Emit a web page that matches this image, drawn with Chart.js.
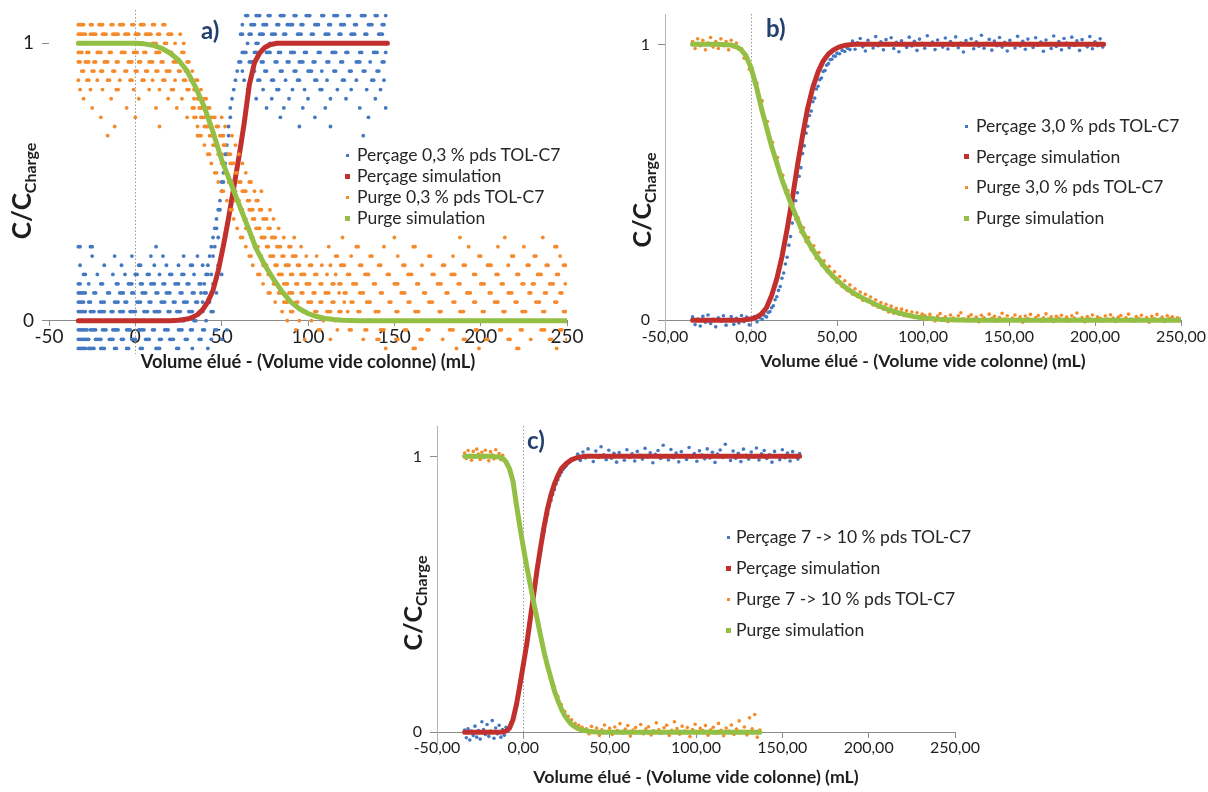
<!DOCTYPE html>
<html lang="fr">
<head>
<meta charset="utf-8">
<title>Perçage et purge TOL-C7</title>
<script src="https://cdn.jsdelivr.net/npm/chart.js@4.4.1/dist/chart.umd.min.js"></script>
<style>
  html, body { margin: 0; padding: 0; background: #fff; width: 1208px; height: 792px; overflow: hidden; }
  body { position: relative; font-family: Lato, "Open Sans", sans-serif; }
  canvas { position: absolute; }
  .panel { position: absolute; font-weight: bold; color: #24406e; font-size: 24px; line-height: 24px; }
  .leg { position: absolute; font-size: 17.5px; line-height: 20px; color: #262626; white-space: nowrap; }
  .mk { position: absolute; }
</style>
</head>
<body>
<canvas id="chartA"></canvas>
<canvas id="chartB"></canvas>
<canvas id="chartC"></canvas>
<div class="panel" style="left:201px; top:18px;">a)</div>
<div class="panel" style="left:766px; top:16px;">b)</div>
<div class="panel" style="left:527px; top:428px;">c)</div>
<div id="legends"></div>
<script>
// ---- axes ----
const xTickValues = [-50, 0, 50, 100, 150, 200, 250];
const xTickLabelsA = ['-50', '0', '50', '100', '150', '200', '250'];
const xTickLabelsBC = ['-50,00', '0,00', '50,00', '100,00', '150,00', '200,00', '250,00'];
const yTickValues = [0, 1];
const yTickLabels = ['0', '1'];
const xTitle = 'Volume élué - (Volume vide colonne) (mL)';

const namesA = ['Perçage 0,3 % pds TOL-C7', 'Perçage simulation', 'Purge 0,3 % pds TOL-C7', 'Purge simulation'];
const namesB = ['Perçage 3,0 % pds TOL-C7', 'Perçage simulation', 'Purge 3,0 % pds TOL-C7', 'Purge simulation'];
const namesC = ['Perçage 7 -> 10 % pds TOL-C7', 'Perçage simulation', 'Purge 7 -> 10 % pds TOL-C7', 'Purge simulation'];

// ---- a) 0,3 % : mesures par niveau [C/Ccharge, [volumes]] ----
const percageExpA = [
  [1.1, [64,65,70,71,72,77,78,84,85,86,92,93,99,100,101,108,109,115,116,117,123,124,131,132,133,139,140,145]],
  [1.067, [62,67,68,69,74,75,76,82,83,88,89,90,91,96,97,104,105,106,112,113,119,120,121,127,128,135,136,137,143,144]],
  [1.033, [61,62,66,67,72,73,74,79,80,81,86,87,94,95,96,102,103,110,111,112,118,119,125,126,127,133,134,141,142,143]],
  [1.0, [65,70,71,78,85,86,93,101,109,110,118,126,134,142]],
  [0.967, [62,63,64,69,70,76,77,78,83,84,90,91,92,98,99,106,107,114,115,116,122,123,130,131,138,139,140,145]],
  [0.933, [60,61,66,67,68,73,74,81,82,88,89,95,96,97,103,104,111,112,119,120,128,129,130,136,143,144]],
  [0.9, [59,62,68,69,75,76,84,85,92,93,100,101,102,108,115,116,124,125,132,133,140,141]],
  [0.867, [58,63,71,72,79,80,87,94,95,104,105,111,120,121,128,137,138,144]],
  [0.833, [57,65,74,82,83,91,98,107,108,117,125,134,142]],
  [0.8, [56,70,79,89,100,113,122,139]],
  [0.767, [55,76,86,97,110,130,145]],
  [0.733, [55,84,104,135]],
  [0.7, [54,95,113]],
  [0.667, [54,132]],
  [0.633, [53]],
  [0.6, [52,53]],
  [0.567, [52]],
  [0.533, [51]],
  [0.5, [50,51]],
  [0.467, [50]],
  [0.433, [49]],
  [0.4, [48,49]],
  [0.367, [47]],
  [0.333, [46,47]],
  [0.3, [45,48]],
  [0.267, [-33,-32,-26,-25,12,44,46]],
  [0.233, [-25,-12,-2,9,16,28,36,43,45]],
  [0.2, [-32,-18,-8,2,3,11,18,25,32,33,39,42,48]],
  [0.167, [-30,-29,-22,-13,-6,0,1,7,8,14,20,21,27,28,34,41,42,44,50]],
  [0.133, [-33,-32,-27,-20,-19,-11,-10,-4,-3,-2,3,4,9,10,11,16,17,23,24,25,30,31,37,38,40,45]],
  [0.1, [-33,-32,-31,-30,-29,-24,-23,-16,-15,-9,-8,-7,-2,-1,4,5,6,12,13,18,19,20,26,27,33,34,38,40,41,47]],
  [0.067, [-33,-32,-31,-30,-27,-26,-20,-19,-18,-12,-11,-10,-6,-5,1,2,3,8,9,15,16,17,22,23,28,29,30,35,36,39,42,43]],
  [0.033, [-33,-32,-31,-30,-29,-26,-25,-24,-21,-20,-19,-18,-14,-13,-9,-8,-7,-3,-2,-1,0,5,6,7,11,12,13,14,19,20,24,25,26,31,32,33,38,39,44,45]],
  [0, [-33,-32,-31,-30,-28,-27,-26,-23,-22,-17,-16,-15,-11,-10,-6,-5,-1,0,4,5,9,10,15,16,21,22,27,28,34,35,41]],
  [-0.033, [-33,-32,-31,-30,-29,-28,-26,-25,-24,-23,-19,-18,-17,-13,-12,-11,-10,-5,-4,-3,2,3,4,5,10,11,17,18,19,25,26,27,32,33,39,40,46,47,53]],
  [-0.067, [-33,-32,-31,-30,-29,-28,-27,-23,-22,-21,-20,-15,-14,-13,-8,-7,-2,-1,0,6,7,8,14,15,20,21,22,29,30,37,38,44,50]],
  [-0.1, [-33,-32,-31,-30,-29,-27,-26,-25,-24,-20,-19,-18,-12,-11,-5,-4,3,4,12,13,14,24,25,33,42]]
];
const purgeExpA = [
  [1.067, [-33,-32,-31,-30,-26,-25,-21,-20,-19,-14,-13,-9,-8,-7,-2,-1,3,4,5,10,11,16,17]],
  [1.033, [-33,-32,-31,-30,-29,-26,-25,-24,-23,-19,-18,-17,-13,-12,-11,-10,-6,-5,-4,0,1,2,6,7,8,9,13,14,19,20,21,26]],
  [1.0, [-33,-32,-31,-30,-29,-24,-23,-22,-17,-16,-10,-9,-8,-3,-2,3,4,10,11,12,17,18,23,28]],
  [0.967, [-33,-32,-31,-28,-27,-22,-21,-20,-15,-14,-8,-7,-6,-1,0,1,5,6,12,13,14,20,21,27,28]],
  [0.933, [-33,-32,-29,-28,-27,-24,-23,-18,-17,-16,-11,-10,-4,-3,-2,2,3,8,9,10,15,16,22,23,24,30,31]],
  [0.9, [-31,-30,-25,-24,-20,-19,-13,-12,-6,-5,0,1,6,7,12,13,18,19,20,25,26,29,33]],
  [0.867, [-33,-28,-27,-22,-16,-15,-9,-3,-2,4,5,10,16,17,23,28,29,32,35,36]],
  [0.833, [-32,-26,-19,-11,-10,-1,8,14,21,22,30,31,34,38]],
  [0.8, [-30,-14,2,19,27,34,36,37,40,41]],
  [0.767, [-25,-5,12,24,33,34,37,38,39,42,43]],
  [0.733, [-20,0,30,34,35,38,39,40,44,45,46,50]],
  [0.7, [-12,14,36,40,41,42,44,47,48,52]],
  [0.667, [-16,36,37,38,43,44,49,50,51,56]],
  [0.633, [40,45,46,47,51,52,58]],
  [0.6, [42,43,48,49,50,54,55,60]],
  [0.567, [44,50,51,55,56,57,62]],
  [0.533, [46,47,52,53,58,59,64]],
  [0.5, [48,54,55,56,60,61,66,67]],
  [0.467, [50,51,57,58,62,63,64,69,73]],
  [0.433, [53,58,59,60,65,66,70,71]],
  [0.4, [55,56,61,62,66,67,68,72,73,78]],
  [0.367, [57,63,64,68,69,74,75,76,80]],
  [0.333, [59,64,65,66,70,71,72,77,78,83]],
  [0.3, [61,62,67,68,73,74,75,79,80,81,86,92,120,150,188,214,236]],
  [0.267, [64,69,70,71,76,77,82,83,84,89,90,96,112,128,129,144,161,162,193,210,225,243,244]],
  [0.233, [66,67,72,73,78,79,80,85,86,91,92,93,99,105,116,117,125,136,137,152,170,171,184,199,200,218,219,231,232,246]],
  [0.2, [68,74,75,76,81,82,87,88,89,94,95,101,102,108,113,119,120,121,130,131,141,142,155,156,166,178,179,190,191,204,205,206,216,227,228,238,239,248,249]],
  [0.167, [71,72,77,78,83,84,85,90,91,96,97,98,104,105,111,116,123,124,133,134,135,146,147,158,159,160,172,173,183,184,185,196,197,209,210,221,222,233,234,235,244,245]],
  [0.133, [74,80,81,86,87,88,93,94,99,100,101,107,108,114,115,118,119,126,127,128,138,139,150,151,152,163,164,175,176,177,187,188,200,201,202,212,213,224,225,230,231,240,241,242,249]],
  [0.1, [77,78,83,84,89,90,91,96,97,103,104,110,111,112,118,121,122,130,131,132,142,143,154,155,156,167,168,180,181,192,193,194,205,206,216,217,218,228,229,237,238,246,247]],
  [0.067, [81,86,87,88,93,94,100,101,102,107,108,114,115,121,125,126,134,135,136,147,148,158,159,170,171,172,184,185,196,197,208,209,210,220,221,232,233,234,243,244]],
  [0.033, [85,90,91,97,98,104,105,111,112,113,118,119,123,129,130,139,140,141,151,152,162,163,164,176,177,188,189,190,201,202,213,214,224,225,226,236,237,248,249]],
  [0, [88,95,102,109,116,127,136,145,155,166,180,193,206,219,230,242]],
  [-0.033, [93,106,107,117,124,125,133,134,142,143,144,156,157,169,170,182,183,184,197,198,211,212,223,224,235,236,237,246,247]],
  [-0.067, [98,113,132,140,141,151,152,165,166,178,190,191,203,204,216,217,229,240,241,250]],
  [-0.1, [145,161,162,186,199,221,222,244]]
];
const percageSimA = [[-33,0],[-20,0],[-10,0],[0,0],[10,0],[20,0],[25,0.002],[30,0.006],[33,0.012],[36,0.022],[39,0.04],[42,0.068],[45,0.11],[48,0.18],[51,0.27],[54,0.37],[57,0.48],[60,0.59],[63,0.71],[66,0.85],[69,0.93],[72,0.965],[75,0.985],[78,0.995],[82,1],[100,1],[120,1],[146,1]];
const purgeSimA = [[-33,1],[-20,1],[-10,1],[0,1],[5,0.998],[10,0.993],[15,0.983],[20,0.965],[25,0.94],[30,0.9],[35,0.84],[40,0.77],[45,0.68],[50,0.58],[55,0.5],[60,0.42],[65,0.34],[70,0.26],[75,0.2],[80,0.15],[85,0.105],[90,0.068],[95,0.043],[100,0.026],[105,0.015],[110,0.008],[115,0.004],[120,0.002],[130,0],[150,0],[200,0],[250,0]];

// ---- b) 3,0 % : [volume, C/Ccharge] ----
const percageExpB = [
  [-34,0.012],[-32.5,-0.016],[-31,0.004],[-29.5,-0.021],[-28,0.014],[-26.5,-0.007],[-25,0.019],[-23.5,-0.012],[-22,0.003],[-20.5,-0.024],[-19,0.009],[-17.5,-0.004],[-16,0.016],[-14.5,-0.018],[-13,0.002],[-11.5,0.013],[-10,-0.015],[-8.5,0.007],[-7,-0.01],[-5.5,0.017],[-4,-0.005],[-2.5,0.011],[-1,-0.017],[0.5,0.006],[2,0.013],[3.5,-0.006],[5,0.009],[6.5,0.003],
  [8,0.016],[9,0.012],[10,0.028],[11,0.031],[12,0.045],[13,0.052],[14,0.074],[15,0.085],[16,0.108],[17,0.122],[18,0.152],[19,0.171],[20,0.204],[21,0.228],[22,0.272],[23,0.303],[24,0.352],[25,0.384],[26,0.433],[27,0.462],[28,0.522],[29,0.553],[30,0.604],[31,0.632],[32,0.678],[33,0.703],[34,0.742],[35,0.758],[36,0.792],[37,0.805],[38,0.838],[39,0.848],[40,0.872],[41,0.878],[42,0.902],[43,0.905],[44,0.924],[45,0.93],[46,0.944],[47,0.946],[48,0.958],[49,0.957],[50,0.968],[51.5,0.966],[53,0.978],[54.5,0.974],[56,0.986],[57.5,0.981],
  [59,1.012],[60.5,0.982],[62,1.006],[63.5,1.021],[65,0.991],[66.5,0.976],[68,1.015],[69.5,1.003],[71,0.987],[72.5,1.028],[74,0.995],[75.5,1.009],[77,0.98],[78.5,1.017],[80,0.999],[81.5,1.024],[83,0.985],[84.5,1.007],[86,0.973],[87.5,1.013],[89,1.002],[90.5,0.989],[92,1.026],[93.5,0.994],[95,1.011],[96.5,0.978],[98,1.019],[99.5,1.004],[101,0.986],[102.5,1.031],[104,0.997],[105.5,1.008],[107,0.981],[108.5,1.016],[110,1.001],[111.5,0.99],[113,1.023],[114.5,0.983],[116,1.01],[117.5,0.996],[119,1.027],[120.5,0.988],[122,1.005],[123.5,0.972],[125,1.014],[126.5,0.999],[128,1.02],[129.5,0.984],[131,1.009],[132.5,0.993],[134,1.033],[135.5,0.986],[137,1.004],[138.5,1.018],[140,0.979],[141.5,1.012],[143,0.995],[144.5,1.025],[146,0.99],[147.5,1.007],[149,0.976],[150.5,1.015],[152,1.002],[153.5,0.987],[155,1.029],[156.5,0.994],[158,1.011],[159.5,0.982],[161,1.019],[162.5,1.003],[164,0.989],[165.5,1.024],[167,0.997],[168.5,1.008],[170,0.975],[171.5,1.016],[173,1.0],[174.5,0.985],[176,1.03],[177.5,0.992],[179,1.01],[180.5,0.98],[182,1.021],[183.5,1.005],[185,0.988],[186.5,1.026],[188,0.996],[189.5,1.013],[191,0.978],[192.5,1.017],[194,1.001],[195.5,0.991],[197,1.028],[198.5,0.984],[200,1.009],[201.5,0.995],[203,1.02],[204.5,0.99]
];
const purgeExpB = [
  [-34,1.01],[-32.5,0.985],[-31,1.02],[-29.5,0.995],[-28,1.015],[-26.5,0.98],[-25,1.005],[-23.5,1.025],[-22,0.99],[-20.5,1.01],[-19,0.985],[-17.5,1.02],[-16,0.995],[-14.5,1.01],[-13,0.98],[-11.5,1.015],[-10,0.99],[-8.5,1.005],[-7,0.985],
  [-5.5,0.985],[-4,0.95],[-2.5,0.955],[-1,0.91],[0.5,0.915],[2,0.86],[3.5,0.86],[5,0.795],[6.5,0.795],[8,0.725],[9.5,0.72],[11,0.65],[12.5,0.645],[14,0.585],[15.5,0.59],[17,0.525],[18.5,0.525],[20,0.465],[21.5,0.47],[23,0.415],[24.5,0.42],[26,0.365],[27.5,0.37],[29,0.32],[30.5,0.335],[32,0.285],[33.5,0.3],[35,0.255],[36.5,0.27],[38,0.225],[39.5,0.245],[41,0.2],[42.5,0.215],[44,0.178],[45.5,0.195],[47,0.158],[48.5,0.176],[50,0.138],[51.5,0.158],[53,0.122],[54.5,0.143],[56,0.108],[57.5,0.128],[59,0.094],[60.5,0.114],[62,0.085],[63.5,0.102],[65,0.072],[66.5,0.094],[68,0.068],[69.5,0.084],[71,0.055],[72.5,0.074],[74,0.047],[75.5,0.064],[77,0.04],[78.5,0.058],[80,0.03],[81.5,0.051],[83,0.025],[84.5,0.043],[86,0.022],[87.5,0.04],[89,0.016],[90.5,0.034],[92,0.018],[93.5,0.03],[95,0.01],[96.5,0.027],[98,0.012],[99.5,0.022],
  [101,0.017],[102.5,0.004],[104,0.021],[105.5,0.009],[107,-0.003],[108.5,0.015],[110,0.024],[111.5,0.006],[113,0.012],[114.5,-0.005],[116,0.019],[117.5,0.008],[119,0.002],[120.5,0.016],[122,0.027],[123.5,0.005],[125,-0.002],[126.5,0.013],[128,0.02],[129.5,0.003],[131,0.011],[132.5,-0.006],[134,0.018],[135.5,0.009],[137,0.001],[138.5,0.022],[140,0.007],[141.5,0.014],[143,-0.004],[144.5,0.01],[146,0.025],[147.5,0.004],[149,0.016],[150.5,-0.001],[152,0.008],[153.5,0.019],[155,0.003],[156.5,0.012],[158,-0.007],[159.5,0.015],[161,0.006],[162.5,0.021],[164,0.001],[165.5,0.01],[167,0.017],[168.5,-0.003],[170,0.009],[171.5,0.023],[173,0.004],[174.5,0.012],[176,-0.005],[177.5,0.014],[179,0.007],[180.5,0.018],[182,0.002],[183.5,0.011],[185,-0.004],[186.5,0.016],[188,0.008],[189.5,0.026],[191,0.003],[192.5,0.01],[194,-0.006],[195.5,0.013],[197,0.005],[198.5,0.019],[200,0.0],[201.5,0.012],[203,0.007],[204.5,-0.003],[206,0.015],[207.5,0.004],[209,0.02],[210.5,0.008],[212,-0.005],[213.5,0.011],[215,0.017],[216.5,0.002],[218,0.009],[219.5,0.022],[221,0.004],[222.5,-0.004],[224,0.013],[225.5,0.006],[227,0.018],[228.5,0.001],[230,0.01],[231.5,-0.007],[233,0.014],[234.5,0.005],[236,0.021],[237.5,0.003],[239,0.011],[240.5,-0.005],[242,0.016],[243.5,0.007],[245,0.012],[246.5,-0.002],[248,0.009],[249.5,0.004]
];
const percageSimB = [[-34,0],[-20,0],[-10,0],[-5,0.001],[0,0.004],[3,0.01],[6,0.022],[9,0.045],[12,0.09],[15,0.15],[18,0.23],[21,0.33],[24,0.44],[27,0.56],[30,0.67],[33,0.77],[36,0.845],[39,0.9],[42,0.94],[45,0.965],[48,0.98],[51,0.99],[55,0.997],[60,1],[100,1],[150,1],[205,1]];
const purgeSimB = [[-34,1],[-20,1],[-12,0.998],[-9,0.993],[-6,0.982],[-3,0.96],[0,0.915],[3,0.85],[6,0.77],[9,0.7],[12,0.63],[15,0.57],[18,0.51],[21,0.46],[24,0.41],[27,0.365],[30,0.32],[34,0.275],[38,0.235],[42,0.2],[46,0.17],[50,0.145],[55,0.118],[60,0.097],[65,0.08],[70,0.065],[75,0.05],[80,0.038],[85,0.028],[90,0.02],[95,0.013],[100,0.008],[110,0.003],[120,0.001],[130,0],[180,0],[250,0]];

// ---- c) 7 -> 10 % : [volume, C/Ccharge] ----
const percageExpC = [
  [-34,0.008],[-33,-0.02],[-32,0.012],[-31,-0.028],[-30,0.004],[-29,-0.012],[-28,0.022],[-27,-0.018],[-26,0.006],[-25,-0.025],[-24,0.038],[-23,0.01],[-22,-0.008],[-21,0.028],[-20,-0.015],[-19,0.004],[-18,0.042],[-17,-0.022],[-16,0.015],[-15,-0.006],[-14,0.025],[-13,-0.018],[-12,0.01],[-11,-0.011],[-10,0.018],[-9,0.004],
  [-8,0.02],[-7,0.034],[-6,0.05],[-5,0.078],[-4,0.1],[-3,0.14],[-2,0.168],[-1,0.21],[0,0.24],[1,0.285],[2,0.318],[3,0.365],[4,0.402],[5,0.455],[6,0.49],[7,0.545],[8,0.578],[9,0.625],[10,0.655],[11,0.7],[12,0.728],[13,0.765],[14,0.79],[15,0.82],[16,0.84],[17,0.862],[18,0.88],[19,0.9],[20,0.915],[21,0.93],[22,0.942],[23,0.952],[24,0.96],[25,0.967],[26,0.975],[27,0.98],[28,0.986],[29,0.99],[30,0.994],
  [31.5,1.008],[33,0.985],[34.5,1.016],[36,0.994],[37.5,1.027],[39,1.003],[40.5,0.981],[42,1.019],[43.5,0.997],[45,1.035],[46.5,1.006],[48,0.988],[49.5,1.022],[51,0.993],[52.5,1.011],[54,0.979],[55.5,1.014],[57,1.001],[58.5,0.986],[60,1.024],[61.5,0.996],[63,1.009],[64.5,0.983],[66,1.018],[67.5,1.004],[69,0.99],[70.5,1.029],[72,0.998],[73.5,1.013],[75,0.977],[76.5,1.007],[78,1.021],[79.5,0.992],[81,1.04],[82.5,1.002],[84,0.987],[85.5,1.025],[87,0.995],[88.5,1.012],[90,0.98],[91.5,1.017],[93,1.003],[94.5,0.989],[96,1.032],[97.5,0.997],[99,1.01],[100.5,0.982],[102,1.02],[103.5,1.005],[105,0.991],[106.5,1.027],[108,0.994],[109.5,1.015],[111,0.978],[112.5,1.008],[114,1.023],[115.5,0.996],[117,1.044],[118.5,1.001],[120,0.985],[121.5,1.019],[123,0.993],[124.5,1.011],[126,0.981],[127.5,1.026],[129,1.004],[130.5,0.99],[132,1.016],[133.5,0.998],[135,1.03],[136.5,0.987],[138,1.009],[139.5,1.021],[141,0.992],[142.5,1.006],[144,0.979],[145.5,1.018],[147,1.002],[148.5,0.988],[150,1.024],[151.5,0.995],[153,1.012],[154.5,0.983],[156,1.017],[157.5,1.003],[159,0.99],[160,1.01]
];
const purgeExpC = [
  [-34,1.012],[-33,0.992],[-32,1.021],[-31,1.004],[-30,0.986],[-29,1.018],[-28,0.998],[-27,1.026],[-26,1.008],[-25,0.989],[-24,1.015],[-23,0.995],[-22,1.022],[-21,1.003],[-20,0.984],[-19,1.017],[-18,1.006],[-17,0.991],[-16,1.024],[-15,0.999],[-14,1.01],[-13,0.988],[-12,1.004],
  [-11,0.99],[-10,0.975],[-9,0.97],[-8,0.945],[-7,0.93],[-6,0.9],[-5,0.865],[-4,0.83],[-3,0.79],[-2,0.755],[-1,0.71],[0,0.675],[1,0.64],[2,0.605],[3,0.57],[4,0.54],[5,0.505],[6,0.475],[7,0.445],[8,0.41],[9,0.385],[10,0.35],[11,0.325],[12,0.29],[13,0.27],[14,0.24],[15,0.22],[16,0.195],[17,0.175],[18,0.165],[19,0.135],[20,0.13],[21,0.1],[22,0.1],[23,0.072],[24,0.075],[25,0.05],[26,0.058],[27,0.035],[28,0.045],[29,0.02],[30,0.032],[31,0.014],[32,0.025],[33,0.008],[34,0.018],[35,0.004],
  [36.5,0.012],[38,-0.006],[39.5,0.021],[41,0.004],[42.5,0.015],[44,-0.012],[45.5,0.009],[47,0.026],[48.5,0.002],[50,0.014],[51.5,-0.008],[53,0.019],[54.5,0.006],[56,0.031],[57.5,-0.003],[59,0.011],[60.5,0.024],[62,-0.014],[63.5,0.008],[65,0.017],[66.5,0.001],[68,0.028],[69.5,-0.006],[71,0.012],[72.5,0.02],[74,-0.01],[75.5,0.005],[77,0.034],[78.5,0.009],[80,-0.004],[81.5,0.016],[83,0.025],[84.5,-0.012],[86,0.007],[87.5,0.038],[89,0.013],[90.5,-0.007],[92,0.022],[93.5,0.004],[95,0.017],[96.5,-0.016],[98,0.01],[99.5,0.029],[101,-0.002],[102.5,0.014],[104,0.006],[105.5,0.024],[107,-0.011],[108.5,0.009],[110,0.018],[111.5,-0.004],[113,0.032],[114.5,0.007],[116,-0.013],[117.5,0.015],[119,0.004],[120.5,0.026],[122,-0.008],[123.5,0.011],[125,0.041],[126.5,0.003],[128,0.019],[129.5,-0.01],[131,0.052],[132.5,0.012],[134,0.064],[135.5,-0.018],[137,0.008]
];
const percageSimC = [[-34,0],[-20,0],[-12,0.001],[-10,0.004],[-8,0.015],[-6,0.045],[-4,0.1],[-2,0.17],[0,0.245],[2,0.32],[4,0.41],[6,0.5],[8,0.59],[10,0.67],[12,0.745],[14,0.81],[16,0.86],[18,0.9],[20,0.93],[22,0.955],[25,0.975],[28,0.988],[31,0.995],[35,1],[60,1],[100,1],[160,1]];
const purgeSimC = [[-34,1],[-20,1],[-14,0.998],[-12,0.993],[-10,0.98],[-8,0.955],[-6,0.91],[-4,0.825],[-2,0.745],[0,0.67],[2,0.6],[4,0.535],[6,0.47],[8,0.41],[10,0.35],[12,0.29],[14,0.24],[16,0.195],[18,0.15],[20,0.115],[22,0.085],[24,0.06],[26,0.042],[28,0.028],[31,0.015],[35,0.006],[40,0.002],[45,0],[80,0],[137,0]];

const BLUE = '#4479c2', RED = '#c2302e', ORANGE = '#f58a2c', GREEN = '#93bf45';
const AXIS = '#8c8c8c', TEXT = '#1e1e1e', FONT = 'Lato, "Open Sans", sans-serif';

function rowsToPoints(rows) {
  const pts = [];
  rows.forEach(([y, xs]) => xs.forEach(x => pts.push({x: x, y: y})));
  return pts;
}
function pairsToPoints(pairs) {
  return pairs.map(([x, y]) => ({x: x, y: y}));
}

// trait pointillé vertical à x = 0
const zeroLine = {
  id: 'zeroLine',
  beforeDatasetsDraw(chart) {
    const {ctx, chartArea} = chart;
    const x = Math.round(chart.scales.x.getPixelForValue(0)) + 0.5;
    ctx.save();
    ctx.strokeStyle = '#9a9a9a';
    ctx.lineWidth = 1;
    ctx.setLineDash([1.5, 2]);
    ctx.beginPath();
    ctx.moveTo(x, chartArea.top);
    ctx.lineTo(x, chartArea.bottom);
    ctx.stroke();
    ctx.restore();
  }
};

// titre vertical C/C(Charge) avec indice
const yTitle = {
  id: 'yTitle',
  afterDraw(chart, args, opts) {
    const ctx = chart.ctx;
    const big = 'bold ' + opts.size + 'px ' + FONT;
    const small = 'bold ' + Math.round(opts.size * 0.62) + 'px ' + FONT;
    ctx.save();
    ctx.translate(opts.x, opts.y);
    ctx.rotate(-Math.PI / 2);
    ctx.fillStyle = TEXT;
    ctx.textBaseline = 'alphabetic';
    ctx.font = big;
    const w1 = ctx.measureText('C/C').width;
    ctx.font = small;
    const w2 = ctx.measureText('Charge').width;
    const x0 = -(w1 + w2) / 2;
    const base = opts.size * 0.36;
    ctx.font = big;
    ctx.fillText('C/C', x0, base);
    ctx.font = small;
    ctx.fillText('Charge', x0 + w1, base + opts.size * 0.18);
    ctx.restore();
  }
};

function makeChart(id, box, d) {
  const cv = document.getElementById(id);
  cv.width = box.w;
  cv.height = box.h;
  cv.style.left = box.left + 'px';
  cv.style.top = box.top + 'px';
  return new Chart(cv, {
    type: 'scatter',
    data: {
      datasets: [
        {label: d.names[3], data: pairsToPoints(d.purgeSim), showLine: true, borderColor: GREEN, borderWidth: 5,
         pointRadius: 0, borderCapStyle: 'round', borderJoinStyle: 'round', order: 0},
        {label: d.names[2], data: d.purgeExp, backgroundColor: ORANGE, pointRadius: box.r, pointBorderWidth: 0, order: 1},
        {label: d.names[1], data: pairsToPoints(d.percageSim), showLine: true, borderColor: RED, borderWidth: 5,
         pointRadius: 0, borderCapStyle: 'round', borderJoinStyle: 'round', order: 2},
        {label: d.names[0], data: d.percageExp, backgroundColor: BLUE, pointRadius: box.r, pointBorderWidth: 0, order: 3}
      ]
    },
    options: {
      responsive: false,
      animation: false,
      devicePixelRatio: 1,
      events: [],
      layout: {padding: {left: 0, top: box.padTop, right: box.padRight, bottom: box.padBottom}},
      plugins: {
        legend: {display: false},
        tooltip: {enabled: false},
        yTitle: {x: box.titleX, y: box.titleY, size: box.titleSize}
      },
      scales: {
        x: {
          type: 'linear', min: -50, max: 250, position: {y: 0},
          afterBuildTicks: ax => { ax.ticks = xTickValues.map(v => ({value: v})); },
          afterFit: ax => { ax.height = box.xh; ax.paddingLeft = 0; ax.paddingRight = 0; },
          ticks: {
            autoSkip: false, maxRotation: 0, padding: box.xPad, color: TEXT,
            font: {family: FONT, size: box.tick},
            callback: v => d.xLabels[xTickValues.indexOf(v)]
          },
          grid: {drawOnChartArea: false, tickLength: 5, tickColor: AXIS, color: AXIS},
          border: {color: AXIS, width: 1},
          title: {display: true, text: xTitle, color: TEXT, padding: 0,
                  font: {family: FONT, size: box.xTitleSize, weight: 'bold'}}
        },
        y: {
          type: 'linear', min: box.ymin, max: box.ymax, position: 'left',
          afterBuildTicks: ax => { ax.ticks = yTickValues.map(v => ({value: v})); },
          afterFit: ax => { ax.width = box.yw; ax.paddingTop = 0; ax.paddingBottom = 0; },
          ticks: {
            padding: 8, color: TEXT, font: {family: FONT, size: box.tick},
            callback: v => yTickLabels[yTickValues.indexOf(v)]
          },
          grid: {drawOnChartArea: false, tickLength: 7, tickColor: AXIS, color: AXIS},
          border: {display: box.yLine, color: '#b4b4b4', width: 1}
        }
      }
    },
    plugins: [zeroLine, yTitle]
  });
}

makeChart('chartA',
  {left: 0, top: 0, w: 600, h: 405, padTop: 10, padRight: 33, padBottom: 51, yw: 49, xh: 52, ymin: -0.12, ymax: 1.12,
   r: 1.9, tick: 19, xPad: 0, xTitleSize: 18.3, titleX: 22, titleY: 191, titleSize: 26, yLine: false},
  {names: namesA, xLabels: xTickLabelsA, percageExp: rowsToPoints(percageExpA), purgeExp: rowsToPoints(purgeExpA),
   percageSim: percageSimA, purgeSim: purgeSimA});

makeChart('chartB',
  {left: 615, top: 0, w: 593, h: 384, padTop: 14, padRight: 27, padBottom: 50, yw: 50, xh: 51.5, ymin: -0.05, ymax: 1.11,
   r: 1.8, tick: 16, xPad: 2, xTitleSize: 17.8, titleX: 27, titleY: 200, titleSize: 25, yLine: true},
  {names: namesB, xLabels: xTickLabelsBC, percageExp: pairsToPoints(percageExpB), purgeExp: pairsToPoints(purgeExpB),
   percageSim: percageSimB, purgeSim: purgeSimB});

makeChart('chartC',
  {left: 390, top: 405, w: 600, h: 395, padTop: 21, padRight: 35, padBottom: 54, yw: 47, xh: 55.5, ymin: -0.05, ymax: 1.11,
   r: 1.8, tick: 16, xPad: 1, xTitleSize: 17.8, titleX: 23, titleY: 198, titleSize: 25, yLine: true},
  {names: namesC, xLabels: xTickLabelsBC, percageExp: pairsToPoints(percageExpC), purgeExp: pairsToPoints(purgeExpC),
   percageSim: percageSimC, purgeSim: purgeSimC});

// légendes (texte HTML placé dans la zone de tracé)
const legendColors = [BLUE, RED, ORANGE, GREEN];
const legendSizes = [3, 5, 3, 5];
function addLegend(names, mx, tx, y0, step) {
  const host = document.getElementById('legends');
  names.forEach((name, i) => {
    const cy = y0 + i * step;
    const s = legendSizes[i];
    const m = document.createElement('div');
    m.className = 'mk';
    m.style.cssText = 'left:' + (mx - s / 2) + 'px;top:' + (cy - s / 2) + 'px;width:' + s + 'px;height:' + s + 'px;background:' + legendColors[i];
    host.appendChild(m);
    const t = document.createElement('div');
    t.className = 'leg';
    t.textContent = name;
    t.style.left = tx + 'px';
    t.style.top = (cy - 10) + 'px';
    host.appendChild(t);
  });
}
addLegend(namesA, 347, 357, 155, 21);
addLegend(namesB, 966, 976, 126, 30.7);
addLegend(namesC, 728, 736, 537, 31);
</script>
</body>
</html>
